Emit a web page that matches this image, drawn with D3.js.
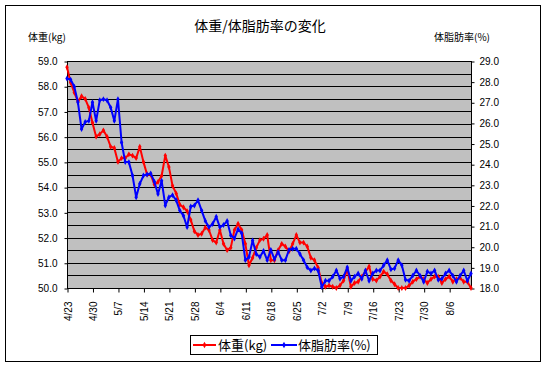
<!DOCTYPE html>
<html><head><meta charset="utf-8">
<script src="https://cdn.jsdelivr.net/npm/d3@7"></script>
<style>
body{margin:0;background:#fff;}
svg{display:block;}
</style></head>
<body>
<svg id="c" width="547" height="367"></svg>
<script>
const startDate = "2007-04-23";
const tickLabels = ["4/23","4/30","5/7","5/14","5/21","5/28","6/4","6/11","6/18","6/25","7/2","7/9","7/16","7/23","7/30","8/6"];
const weightKg = [
58.75,58.15,57.75,57.4,57.6,57.5,57.15,56.55,56.0,56.1,
56.25,56.0,55.6,55.55,55.0,55.15,55.15,55.3,55.25,55.15,
55.6,55.0,54.5,54.5,54.1,54.2,54.45,55.25,54.8,54.05,
53.75,53.3,53.2,53.05,52.7,52.25,52.1,52.15,52.4,52.3,
51.9,51.8,52.3,51.75,51.5,51.6,52.3,52.55,52.3,51.75,
50.9,51.2,51.6,51.9,51.95,52.1,51.1,51.1,51.5,51.75,
51.65,51.45,51.75,52.1,51.8,51.8,51.65,51.2,51.1,50.8,
50.2,50.05,50.1,50.05,50.0,50.1,50.3,50.75,50.05,50.2,
50.25,50.45,50.65,50.85,50.35,50.3,50.45,50.65,50.55,50.3,
50.15,50.0,50.0,50.0,50.1,50.25,50.35,50.45,50.35,50.2,
50.35,50.45,50.45,50.2,50.35,50.45,50.25,50.35,50.4,50.25,
50.25,50.0];
const bodyFatPct = [
28.15,28.1,27.75,27.0,25.7,26.05,26.1,27.0,26.1,27.1,
27.15,27.1,26.75,26.1,27.15,25.05,24.1,24.1,23.45,22.4,
23.05,23.45,23.5,23.55,23.15,22.55,23.2,22.0,22.4,22.5,
22.25,21.75,21.5,20.95,21.95,22.0,22.25,21.75,21.25,20.95,
21.1,21.45,20.95,21.05,21.25,20.55,20.4,20.85,20.65,19.35,
19.5,20.3,19.65,19.5,19.8,19.35,19.85,19.4,19.75,19.35,
19.35,19.85,19.9,19.9,19.65,19.35,19.0,18.85,18.95,18.85,
18.05,18.35,18.35,18.55,18.85,18.45,18.55,19.0,18.35,18.55,
18.7,18.45,18.85,18.35,18.7,18.85,18.85,19.1,19.35,18.9,
18.95,19.35,19.1,18.4,18.35,18.6,18.85,18.6,18.3,18.8,
18.7,18.85,18.4,18.45,18.7,18.85,18.6,18.3,18.6,18.85,
18.35,18.7];
const weightTicks = [50,51,52,53,54,55,56,57,58,59];
const fatTicks = [18,19,20,21,22,23,24,25,26,27,28,29];
const seriesNames = ["体重(kg)","体脂肪率(%)"];
const seriesColors = ["#ff0000","#0000ff"];

const jp = "'Noto Sans CJK JP', sans-serif";
const num = "'Liberation Sans', Arial, sans-serif";
const parse = d3.timeParse("%Y-%m-%d");
const d0 = parse(startDate);
const dates = weightKg.map((_, i) => d3.timeDay.offset(d0, i));
const tickDates = tickLabels.map((_, i) => d3.timeDay.offset(d0, i * 7));

const L = 67, R = 471, T = 61, B = 288;
const svg = d3.select("#c");
svg.append("rect").attr("x",5.5).attr("y",5.5).attr("width",535).attr("height",356)
  .attr("fill","#fff").attr("stroke","#000");

const x = d3.scaleTime().domain([dates[0], dates[dates.length-1]]).range([L, R]);
const yW = d3.scaleLinear().domain([50,59]).range([B, T]);
const yF = d3.scaleLinear().domain([18,29]).range([B, T]);

svg.append("rect").attr("x",L+0.5).attr("y",T+0.5).attr("width",R-L).attr("height",B-T)
  .attr("fill","#c0c0c0");

// gridlines every 0.5 kg
svg.append("g").selectAll("line").data(d3.range(50.5, 59, 0.5)).join("line")
  .attr("x1",L).attr("x2",R+0.5)
  .attr("y1",d=>Math.round(yW(d))+0.5).attr("y2",d=>Math.round(yW(d))+0.5)
  .attr("stroke","#000").attr("stroke-width",1);

svg.append("rect").attr("x",L+0.5).attr("y",T+0.5).attr("width",R-L).attr("height",B-T)
  .attr("fill","none").attr("stroke","#000");

// left axis
const gl = svg.append("g").attr("transform",`translate(${L+0.5},0.5)`)
  .call(d3.axisLeft(yW).tickValues(weightTicks).tickSize(3).tickSizeOuter(0).tickFormat(d3.format(".1f")));
gl.select(".domain").remove();
gl.selectAll("text").attr("font-family",num).attr("font-size",10).attr("fill","#000").attr("x",-10);
gl.selectAll("line").attr("stroke","#000");

// right axis
const gr = svg.append("g").attr("transform",`translate(${R+0.5},0.5)`)
  .call(d3.axisRight(yF).tickValues(fatTicks).tickSize(3).tickSizeOuter(0).tickFormat(d3.format(".1f")));
gr.select(".domain").remove();
gr.selectAll("text").attr("font-family",num).attr("font-size",10).attr("fill","#000").attr("x",8);
gr.selectAll("line").attr("stroke","#000");

// bottom axis
const gb = svg.append("g").attr("transform",`translate(0.5,${B+0.5})`)
  .call(d3.axisBottom(x).tickValues(tickDates).tickSize(4).tickSizeOuter(0)
    .tickFormat((d,i)=>tickLabels[i]));
gb.select(".domain").remove();
gb.selectAll("line").attr("stroke","#000");
gb.selectAll("text").attr("font-family",num).attr("font-size",10).attr("fill","#000")
  .attr("transform","rotate(-90)").attr("text-anchor","end")
  .attr("x",-13).attr("y",0).attr("dy","0.35em");

// series
function drawSeries(vals, yS, color){
  const line = d3.line().x((d,i)=>x(dates[i])).y(d=>yS(d));
  svg.append("path").datum(vals).attr("d",line).attr("fill","none")
    .attr("stroke",color).attr("stroke-width",2).attr("stroke-linejoin","round");
  svg.append("g").selectAll("path").data(vals).join("path")
    .attr("d",d3.symbol(d3.symbolDiamond, 10))
    .attr("transform",(d,i)=>`translate(${x(dates[i])},${yS(d)})`)
    .attr("fill",color);
}
drawSeries(weightKg, yW, seriesColors[0]);
drawSeries(bodyFatPct, yF, seriesColors[1]);

// titles
svg.append("text").attr("x",260).attr("y",31).attr("text-anchor","middle")
  .attr("font-family",jp).attr("font-size",14).text("体重/体脂肪率の変化");
svg.append("text").attr("x",28).attr("y",41).attr("font-family",jp).attr("font-size",10).text("体重(kg)");
svg.append("text").attr("x",490).attr("y",41).attr("text-anchor","end").attr("font-family",jp).attr("font-size",10).text("体脂肪率(%)");

// legend
const lg = svg.append("g");
lg.append("rect").attr("x",190.5).attr("y",335.5).attr("width",187).attr("height",19)
  .attr("fill","#fff").attr("stroke","#000");
const items = [{x1:193,x2:216,tx:218},{x1:271,x2:297,tx:298}];
items.forEach((it,k)=>{
  lg.append("line").attr("x1",it.x1).attr("x2",it.x2).attr("y1",345).attr("y2",345)
    .attr("stroke",seriesColors[k]).attr("stroke-width",2);
  lg.append("path").attr("d",d3.symbol(d3.symbolDiamond,12))
    .attr("transform",`translate(${(it.x1+it.x2)/2},345)`).attr("fill",seriesColors[k]);
  lg.append("text").attr("x",it.tx).attr("y",350).attr("font-family",jp).attr("font-size",13)
    .text(seriesNames[k]);
});
</script>
</body></html>
